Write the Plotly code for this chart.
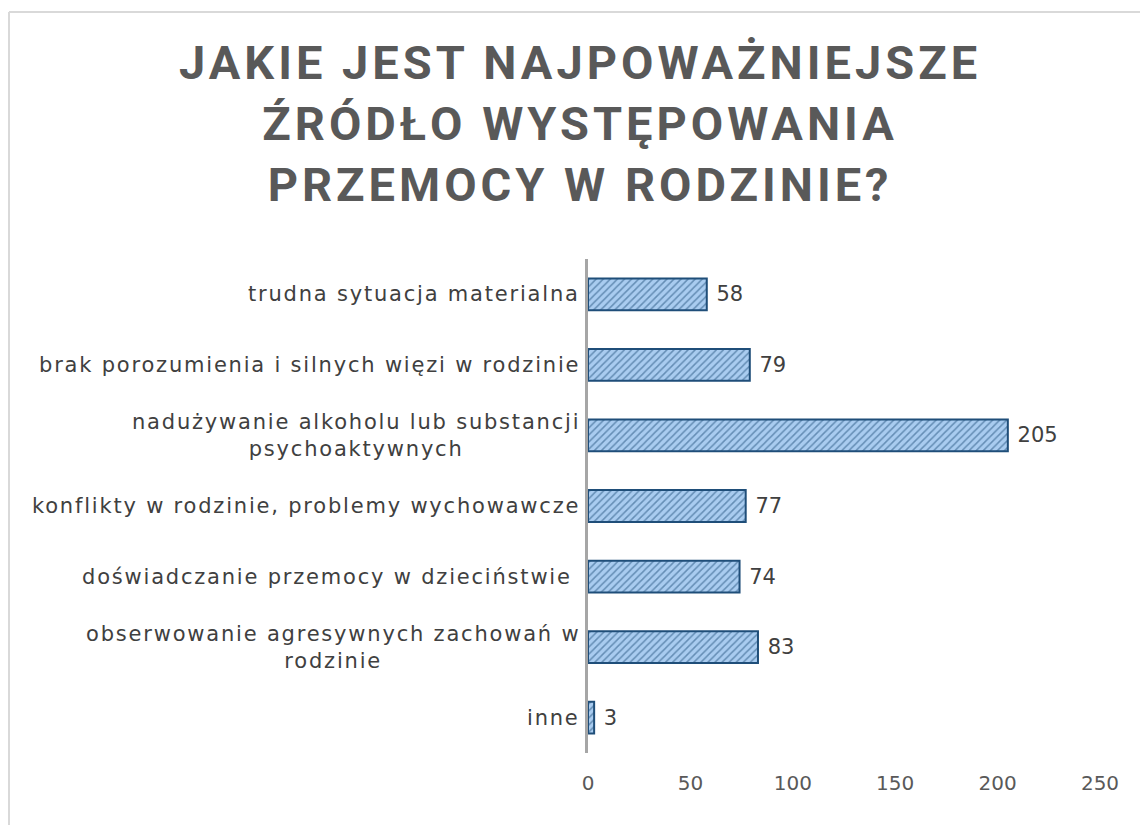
import plotly.graph_objects as go

categories = [
    "trudna sytuacja materialna",
    "brak porozumienia i silnych więzi w rodzinie",
    "nadużywanie alkoholu lub substancji<br>psychoaktywnych",
    "konflikty w rodzinie, problemy wychowawcze",
    "doświadczanie przemocy w dzieciństwie\u00a0",
    "obserwowanie agresywnych zachowań w<br>rodzinie",
    "inne",
]
values = [58, 79, 205, 77, 74, 83, 3]
x_ticks = [0, 50, 100, 150, 200, 250]
title_lines = ["JAKIE JEST NAJPOWAŻNIEJSZE", "ŹRÓDŁO WYSTĘPOWANIA", "PRZEMOCY W RODZINIE?"]

# page body has an 8px margin, so the figure is drawn 8px smaller
W, H = 1140, 817
L, R, T, B = 580, 48, 251, 72
PW, PH = W - L - R, H - T - B
LABEL_FONT = "DejaVu Sans"


def px_x(px):
    return (px - L) / PW


def px_y(py):
    return (H - B - py) / PH


def spaced(text, sp):
    return "<br>".join(
        "<span style='letter-spacing:%s'>%s</span>" % (sp, line)
        for line in text.split("<br>")
    )


fig = go.Figure()
fig.add_trace(go.Bar(
    y=categories,
    x=values,
    orientation="h",
    text=["\u00a0" + str(v) for v in values],
    textposition="outside",
    cliponaxis=False,
    textfont=dict(family=LABEL_FONT, size=21, color="#404040"),
    marker=dict(
        color="#A9CCF0",
        line=dict(color="#1F4E79", width=2),
        pattern=dict(shape="/", fgcolor="#1F4E79", bgcolor="#A9CCF0",
                     size=5, solidity=0.3),
    ),
    hoverinfo="x+y",
))

annotations = []
for c in categories:
    annotations.append(dict(
        x=0, y=c, xref="x", yref="y",
        text=spaced(c, "1.8px"), showarrow=False,
        xanchor="right", yanchor="middle", align="center",
        xshift=-6,
        font=dict(family=LABEL_FONT, size=21, color="#404040"),
    ))

annotations.append(dict(
    x=px_x(572), y=px_y(116), xref="paper", yref="paper",
    text=spaced("<br>".join(title_lines), "4px"),
    showarrow=False, xanchor="center", yanchor="middle", align="center",
    font=dict(family="Roboto", size=47, color="#595959", weight="bold"),
))

fig.update_layout(
    width=W, height=H,
    margin=dict(l=L, r=R, t=T, b=B, autoexpand=False),
    paper_bgcolor="white",
    plot_bgcolor="white",
    showlegend=False,
    bargap=0.55,
    annotations=annotations,
    shapes=[
        dict(type="line", xref="paper", yref="paper",
             x0=px_x(1), x1=px_x(W + 10),
             y0=px_y(4), y1=px_y(4),
             line=dict(color="#D9D9D9", width=2)),
        dict(type="line", xref="paper", yref="paper",
             x0=px_x(1), x1=px_x(1),
             y0=px_y(4), y1=px_y(H + 10),
             line=dict(color="#D9D9D9", width=2)),
    ],
)

fig.update_xaxes(
    range=[0, 250],
    tickvals=x_ticks,
    ticktext=[str(t) for t in x_ticks],
    showgrid=False, zeroline=False, showline=False,
    ticks="",
    ticklabelstandoff=16,
    tickfont=dict(family=LABEL_FONT, size=20, color="#595959"),
)
fig.update_yaxes(
    autorange="reversed",
    showticklabels=False,
    showgrid=False, zeroline=False,
    showline=True, linecolor="#A6A6A6", linewidth=3,
    ticks="",
)

fig.write_html("out.html")
